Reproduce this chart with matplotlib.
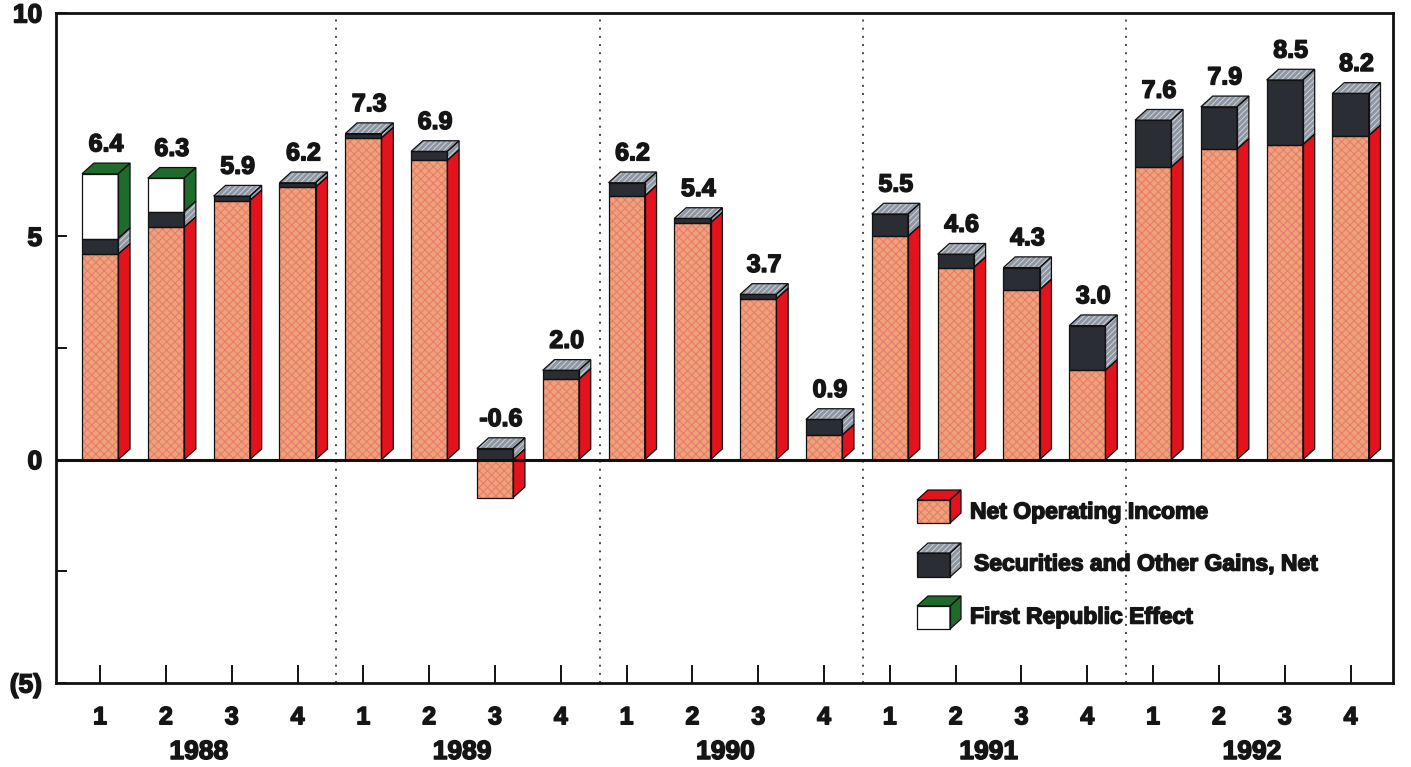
import matplotlib
matplotlib.use('Agg')
import matplotlib.pyplot as plt
from matplotlib.patches import Polygon
from matplotlib.transforms import blended_transform_factory
import matplotlib.patheffects as pe

plt.rcParams['font.family'] = ['Liberation Sans', 'DejaVu Sans']
plt.rcParams['font.weight'] = 'bold'
plt.rcParams['hatch.linewidth'] = 0.7

# ---------------- data ----------------
years = ['1988', '1989', '1990', '1991', '1992']
quarters = ['1', '2', '3', '4']
net_operating_income = [4.6, 5.2, 5.8, 6.1,
                        7.2, 6.7, -0.85, 1.8,
                        5.9, 5.3, 3.6, 0.55,
                        5.0, 4.3, 3.8, 2.0,
                        6.55, 6.95, 7.05, 7.25]
securities_gains = [0.35, 0.35, 0.1, 0.1,
                    0.1, 0.2, 0.25, 0.2,
                    0.3, 0.1, 0.1, 0.35,
                    0.5, 0.3, 0.5, 1.0,
                    1.05, 0.95, 1.45, 0.95]
first_republic = [1.45, 0.75, 0, 0,
                  0, 0, 0, 0,
                  0, 0, 0, 0,
                  0, 0, 0, 0,
                  0, 0, 0, 0]
series_names = ['Net Operating Income', 'Securities and Other Gains, Net', 'First Republic Effect']

# ---------------- styles ----------------
styles = {
    'noi': dict(front='#EFA178', fhatch='xxxx', fhc='#E6786C',
                side='#E3121C', shatch=None, shc=None,
                top='#E3121C', thatch=None, thc=None),
    'sec': dict(front='#2A2D34', fhatch=None, fhc=None,
                side='#8E96A2', shatch='//////', shc='#D0D4DA',
                top='#8E96A2', thatch='//////', thc='#D0D4DA'),
    'fr': dict(front='#FFFFFF', fhatch=None, fhc=None,
               side='#1F6B2B', shatch=None, shc=None,
               top='#1F6B2B', thatch=None, thc=None),
}
TXT = '#151515'
heavy = [pe.withStroke(linewidth=1.1, foreground=TXT)]

W = 1411
H = 767
fig = plt.figure(figsize=(W / 100, H / 100), dpi=100)
ax = fig.add_axes([56 / W, 1 - 683 / H, (1393 - 56) / W, (683 - 13) / H])

n = len(net_operating_income)
ax.set_xlim(-0.67, n - 1 + 0.645)
ax.set_ylim(-5, 10)

half = 0.275   # half width of front face
dx = 0.18      # depth offset in x
dy = 0.24      # depth offset in y


def poly(pts, fc, hatch=None, hc=None, lw=0.9, z=3, transform=None):
    kw = {} if transform is None else dict(transform=transform, clip_on=False)
    ax.add_patch(Polygon(pts, closed=True, facecolor=fc, edgecolor='none', lw=0, zorder=z, **kw))
    if hatch:
        ax.add_patch(Polygon(pts, closed=True, facecolor='none', edgecolor=hc, lw=0,
                             hatch=hatch, zorder=z + 0.01, **kw))
    ax.add_patch(Polygon(pts, closed=True, facecolor='none', edgecolor='#111111', lw=lw,
                         zorder=z + 0.02, joinstyle='miter', **kw))


def box(x0, x1, y0, y1, ddx, ddy, st, draw_top, z=3, transform=None):
    front = [(x0, y0), (x1, y0), (x1, y1), (x0, y1)]
    side = [(x1, y0), (x1 + ddx, y0 + ddy), (x1 + ddx, y1 + ddy), (x1, y1)]
    poly(front, st['front'], st['fhatch'], st['fhc'], z=z, transform=transform)
    poly(side, st['side'], st['shatch'], st['shc'], z=z, transform=transform)
    if draw_top:
        top = [(x0, y1), (x1, y1), (x1 + ddx, y1 + ddy), (x0 + ddx, y1 + ddy)]
        poly(top, st['top'], st['thatch'], st['thc'], z=z, transform=transform)


for i in range(n):
    segs = [('noi', net_operating_income[i]), ('sec', securities_gains[i]), ('fr', first_republic[i])]
    pos, neg = 0.0, 0.0
    drawn = []
    for key, v in segs:
        if v == 0:
            continue
        if v > 0:
            drawn.append((key, pos, pos + v))
            pos += v
        else:
            drawn.append((key, neg + v, neg))
            neg += v
    top_y = max(y1 for _, _, y1 in drawn)
    for key, y0, y1 in drawn:
        box(i - half, i + half, y0, y1, dx, dy, styles[key], draw_top=(y1 == top_y), z=3 + i * 0.1)
    total = net_operating_income[i] + securities_gains[i] + first_republic[i]
    ax.text(i + dx / 2, top_y + dy + 0.15, f'{total:.1f}', ha='center', va='bottom',
            fontsize=18, fontweight='bold', color=TXT, zorder=10, path_effects=heavy)

# zero line
ax.axhline(0, color='#111111', lw=2.2, zorder=8)

# year dividers
for k in range(1, len(years)):
    ax.axvline(4 * k - 0.41, color='#4A4550', lw=1.4, linestyle=(0, (1, 3.2)), zorder=1)

# axes styling
for s in ax.spines.values():
    s.set_linewidth(2)
    s.set_color('#111111')

ax.set_yticks([-5, -2.5, 0, 2.5, 5, 10])
ax.set_yticklabels(['(5)', '', '0', '', '5', '10'], fontsize=19, fontweight='bold')
ax.tick_params(axis='y', direction='in', length=8, width=1.3, pad=10)
ax.set_xticks(range(n))
ax.set_xticklabels([quarters[i % 4] for i in range(n)], fontsize=18, fontweight='bold')
ax.tick_params(axis='x', direction='in', length=13, width=1.3, pad=16)
for lab in ax.get_xticklabels() + ax.get_yticklabels():
    lab.set_path_effects(heavy)
    lab.set_color(TXT)

trans = blended_transform_factory(ax.transData, ax.transAxes)
for k, yr in enumerate(years):
    ax.text(4 * k + 1.5, -0.103, yr, transform=trans, ha='center', va='center',
            fontsize=19, fontweight='bold', color=TXT, path_effects=heavy)

# legend (manual 3D icons in figure fraction coordinates)
legend_rows = [('noi', 500, 523, 512), ('sec', 553, 577, 564), ('fr', 606, 629, 617)]


def fx(px):
    return px / W


def fy(py):
    return 1 - py / H


for (key, ytop, ybot, ytext), name in zip(legend_rows, series_names):
    x0, x1 = fx(917), fx(950)
    y0, y1 = fy(ybot), fy(ytop)
    st = dict(styles[key])
    box(x0, x1, y0, y1, 11 / W, 10 / H, st, draw_top=True, z=20, transform=fig.transFigure)
    fig.text(fx(970 if key != 'sec' else 974), fy(ytext), name, ha='left', va='center',
             fontsize=16.5, fontweight='bold', color=TXT, path_effects=heavy)

fig.savefig('out.png', dpi=100)
